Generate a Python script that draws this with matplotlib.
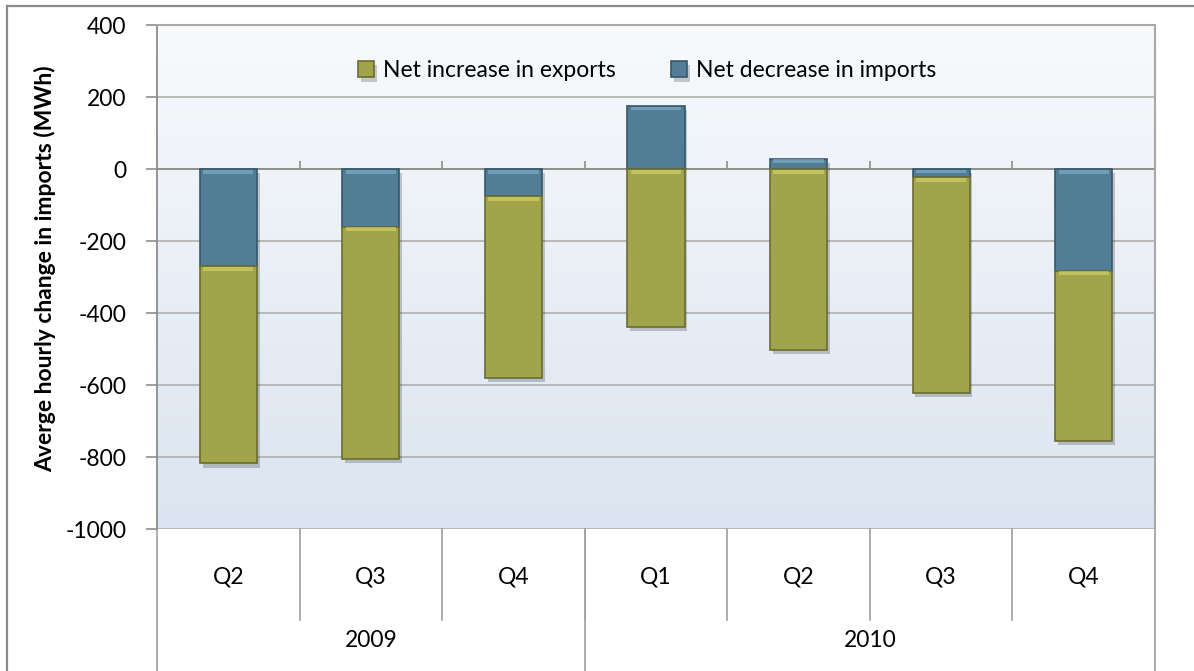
import numpy as np
import matplotlib.pyplot as plt
from matplotlib import patheffects as pe
from matplotlib.colors import LinearSegmentedColormap
from matplotlib.lines import Line2D

quarters = ["Q2", "Q3", "Q4", "Q1", "Q2", "Q3", "Q4"]
years = ["2009", "2010"]
year_spans = [3, 4]
exports = [-548, -646, -506, -438, -503, -600, -473]   # net increase in exports
imports = [-270, -160, -75, 175, 28, -23, -283]        # net decrease in imports

plt.rcParams['font.family'] = ['Lato', 'DejaVu Sans']
plt.rcParams['axes.unicode_minus'] = False
FS = 16.5

GREEN, GREEN_EDGE, GREEN_HI = '#a2a44c', '#6a6c32', '#d4d76a'
BLUE, BLUE_EDGE, BLUE_HI = '#527d97', '#36576b', '#86b3cc'
AXIS_GRAY = '#8c8c8c'
GRID_GRAY = '#b4b4b4'

fig = plt.figure(figsize=(11.94, 6.71), dpi=100)
ax = fig.add_axes([157/1194, 142/671, 998/1194, 504/671])

x = np.arange(len(quarters))
exp = np.array(exports, dtype=float)
imp = np.array(imports, dtype=float)
# negative values stack below the imports segment, positives start at zero
exp_bottom = np.where((imp < 0) & (exp < 0), imp, 0)

# plot area background, light at top to pale blue at bottom
grad = np.linspace(0, 1, 256).reshape(-1, 1)
bg = LinearSegmentedColormap.from_list('bg', ['#f8fafc', '#dbe4f0'])
ax.imshow(grad, cmap=bg, extent=(0, 1, 0, 1), transform=ax.transAxes,
          aspect='auto', zorder=0, origin='upper')

shadow = [pe.SimplePatchShadow(offset=(2, -3), shadow_rgbFace='k', alpha=0.2), pe.Normal()]
w = 0.4

def segments(heights, bottoms, face, edge, hi, label):
    bars = ax.bar(x, heights, w, bottom=bottoms, color=face, edgecolor=edge,
                  linewidth=1.2, zorder=3, label=label, path_effects=shadow)
    # soft bevel along the upper edge of each segment
    top = np.maximum(bottoms, bottoms + heights)
    h = np.minimum(11, np.abs(heights) * 0.4)
    ax.bar(x, -h, w * 0.88, bottom=top - 1.5, color=hi, linewidth=0, zorder=4, alpha=0.6)
    return bars

segments(imp, np.zeros_like(imp), BLUE, BLUE_EDGE, BLUE_HI, 'Net decrease in imports')
segments(exp, exp_bottom, GREEN, GREEN_EDGE, GREEN_HI, 'Net increase in exports')

ax.set_xlim(-0.5, len(quarters) - 0.5)
ax.set_ylim(-1000, 400)
ax.set_yticks(np.arange(-1000, 401, 200))
ax.tick_params(axis='y', direction='out', length=8, color=AXIS_GRAY, width=1.2,
               pad=14, labelsize=FS)
ax.grid(axis='y', color=GRID_GRAY, lw=1.3)
ax.set_axisbelow(True)

# horizontal axis crosses at zero, tick marks between categories
ax.spines['bottom'].set_position(('data', 0))
ax.spines['bottom'].set_color(AXIS_GRAY)
ax.spines['bottom'].set_linewidth(1.3)
ax.spines['bottom'].set_zorder(2)
ax.set_xticks(np.arange(1, len(quarters)) - 0.5)
ax.tick_params(axis='x', direction='in', length=6, color=AXIS_GRAY, width=1.2,
               labelbottom=False)
ax.spines['left'].set_color(AXIS_GRAY)
ax.spines['left'].set_linewidth(1.3)
for s in ('top', 'right'):
    ax.spines[s].set_color('#a8a8a8')
    ax.spines[s].set_linewidth(1.5)

ax.set_ylabel('Averge hourly change in imports (MWh)', fontsize=FS, fontweight='bold')
ax.yaxis.set_label_coords(-0.101, 0.516)

# two-level category labels under the plot area
trans = ax.get_xaxis_transform()
for i, q in enumerate(quarters):
    ax.text(i, -0.095, q, transform=trans, ha='center', va='center', fontsize=FS)
for b in np.arange(1, len(quarters)) - 0.5:
    ax.plot([b, b], [0, -0.181], transform=trans, color='#a6a6a6', lw=1.3, clip_on=False)
start = -0.5
for yr, span in zip(years, year_spans):
    ax.plot([start, start], [0, -0.3], transform=trans, color='#a6a6a6', lw=1.3, clip_on=False)
    ax.text(start + span / 2, -0.222, yr, transform=trans, ha='center', va='center', fontsize=FS)
    start += span
ax.plot([start, start], [0, -0.3], transform=trans, color='#a6a6a6', lw=1.3, clip_on=False)

handles, labels = ax.get_legend_handles_labels()
ax.legend(handles[::-1], labels[::-1], loc='center', bbox_to_anchor=(0.491, 0.909),
          ncol=2, frameon=False, fontsize=FS, handlelength=0.7, handleheight=0.7,
          handletextpad=0.4, columnspacing=2.4)

# chart area border
fig.add_artist(Line2D([7/1194, 7/1194], [0, 1 - 6/671], transform=fig.transFigure,
                      color=AXIS_GRAY, lw=1.6))
fig.add_artist(Line2D([7/1194, 1], [1 - 6/671, 1 - 6/671], transform=fig.transFigure,
                      color=AXIS_GRAY, lw=1.6))

fig.savefig('out.png', dpi=100)
